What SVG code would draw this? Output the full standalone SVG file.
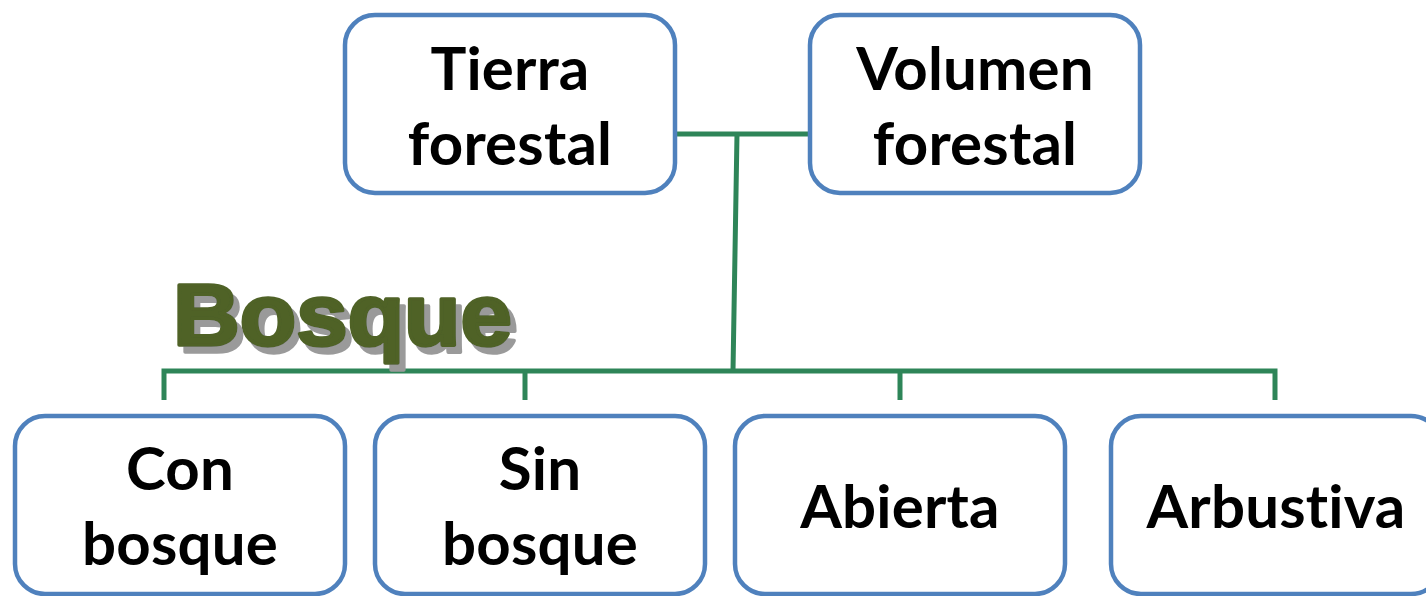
<svg xmlns="http://www.w3.org/2000/svg" width="1426" height="596" viewBox="0 0 1426 596">
<style>
.box{fill:#fff;stroke:#4F81BD;stroke-width:4.5}
.lbl{font-family:Lato,"Open Sans","Liberation Sans",sans-serif;font-weight:700;font-size:60px;fill:#000;text-anchor:middle;font-variant-ligatures:none;font-feature-settings:"liga" 0;letter-spacing:0.2px}
.con{fill:none;stroke:#2E8558;stroke-width:5;stroke-linecap:butt;stroke-linejoin:miter}
.wa{font-family:"Liberation Sans",Arial,sans-serif;font-weight:700;font-size:88px;stroke-width:3.5;stroke-linejoin:round;fill:#4F6228;stroke:#4F6228}
</style>
<defs>
<filter id="shadow" x="-10%" y="-20%" width="130%" height="150%">
<feOffset in="SourceAlpha" dx="6" dy="7" result="off"/>
<feFlood flood-color="#9a9a9a"/>
<feComposite in2="off" operator="in" result="sh"/>
<feMerge><feMergeNode in="sh"/><feMergeNode in="SourceGraphic"/></feMerge>
</filter>
</defs>
<rect width="1426" height="596" fill="#fff"/>
<g id="connectors">
<path class="con" d="M677 134 H810 M737 134 L733 371"/>
<path class="con" d="M164 400 V371 H1275 V400"/>
<path class="con" d="M525 371 V400 M900 371 V400"/>
</g>
<g id="bosque-label">
<text class="wa" x="173" y="345" filter="url(#shadow)" textLength="339" lengthAdjust="spacingAndGlyphs">Bosque</text>
</g>
<g id="tierra-forestal">
<rect class="box" x="345" y="15" width="330" height="178" rx="30"/>
<text class="lbl" x="510" y="90">Tierra</text>
<text class="lbl" x="510" y="165">forestal</text>
</g>
<g id="volumen-forestal">
<rect class="box" x="810" y="15" width="330" height="178" rx="30"/>
<text class="lbl" x="975" y="90">Volumen</text>
<text class="lbl" x="975" y="165">forestal</text>
</g>
<g id="con-bosque">
<rect class="box" x="15" y="416" width="330" height="178" rx="30"/>
<text class="lbl" x="180" y="490">Con</text>
<text class="lbl" x="180" y="565">bosque</text>
</g>
<g id="sin-bosque">
<rect class="box" x="375" y="416" width="330" height="178" rx="30"/>
<text class="lbl" x="540" y="490">Sin</text>
<text class="lbl" x="540" y="565">bosque</text>
</g>
<g id="abierta">
<rect class="box" x="735" y="416" width="330" height="178" rx="30"/>
<text class="lbl" x="900" y="528">Abierta</text>
</g>
<g id="arbustiva">
<rect class="box" x="1111" y="416" width="330" height="178" rx="30"/>
<text class="lbl" x="1276" y="528">Arbustiva</text>
</g>
</svg>
